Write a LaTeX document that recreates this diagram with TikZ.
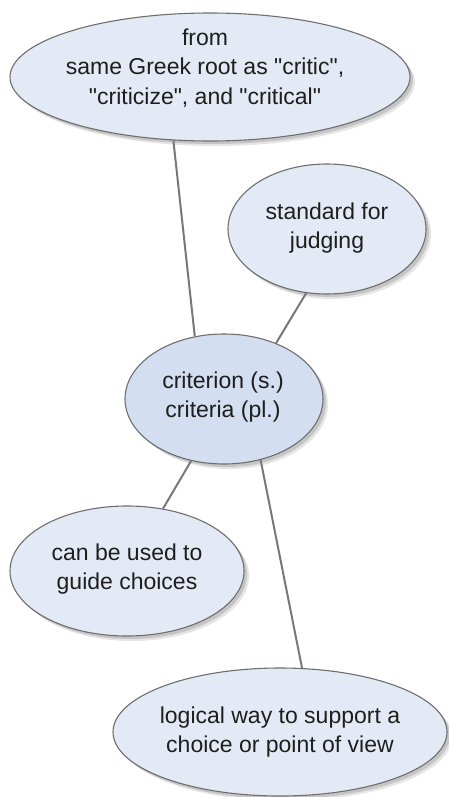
\documentclass[tikz,border=0pt]{standalone}
\usepackage{fontspec}
\setmainfont{Liberation Sans}[Ligatures=TeXOff]
\usetikzlibrary{shapes.geometric,shadows}
\definecolor{bubfill}{HTML}{E4EAF5}
\definecolor{critfill}{HTML}{D3DEF0}
\definecolor{bubline}{HTML}{6E6E6E}
\definecolor{conline}{HTML}{787878}
\definecolor{txtcol}{HTML}{1E1E1E}
\tikzset{
  bub/.style={ellipse, draw=bubline, line width=1.1pt, fill=bubfill, inner sep=0pt,
    drop shadow={shadow xshift=5pt, shadow yshift=-5pt, opacity=0.10, fill=black},
    drop shadow={shadow xshift=3pt, shadow yshift=-3pt, opacity=0.14, fill=black}},
  txt/.style={align=center, text=txtcol, inner sep=0pt,
    font=\fontsize{23pt}{29.5pt}\selectfont},
  con/.style={draw=conline, line width=2pt}
}
\begin{document}
\begin{tikzpicture}[x=1pt,y=-1pt]
\useasboundingbox (0,0) rectangle (449,797);
% bubbles
\node[bub, minimum width=400pt, minimum height=128pt] (top) at (210,77) {};
\node[bub, minimum width=198pt, minimum height=130pt] (std) at (327,229) {};
\node[bub, fill=critfill, minimum width=198pt, minimum height=130pt] (crit) at (224,399) {};
\node[bub, minimum width=234pt, minimum height=130pt] (can) at (127,571) {};
\node[bub, minimum width=334pt, minimum height=128pt] (bot) at (280,732) {};
% texts
\node[txt] (toptxt) at (205,68) {from\\same Greek root as "critic",\\"criticize", and "critical"};
\node[txt] (stdtxt) at (327,228) {standard for\\judging};
\node[txt] (crittxt) at (223,397) {criterion (s.)\\criteria (pl.)};
\node[txt] (cantxt) at (127,569) {can be used to\\guide choices};
\node[txt] (bottxt) at (280,732) {logical way to support a\\choice or point of view};
% connectors
\draw[con] (top.240.4) -- (crit.115.1);
\draw[con] (std.252.4) -- (crit.47.1);
\draw[con] (crit.242.4) -- (can.60.9);
\draw[con] (crit.301.9) -- (bot.71.3);
\end{tikzpicture}
\end{document}
